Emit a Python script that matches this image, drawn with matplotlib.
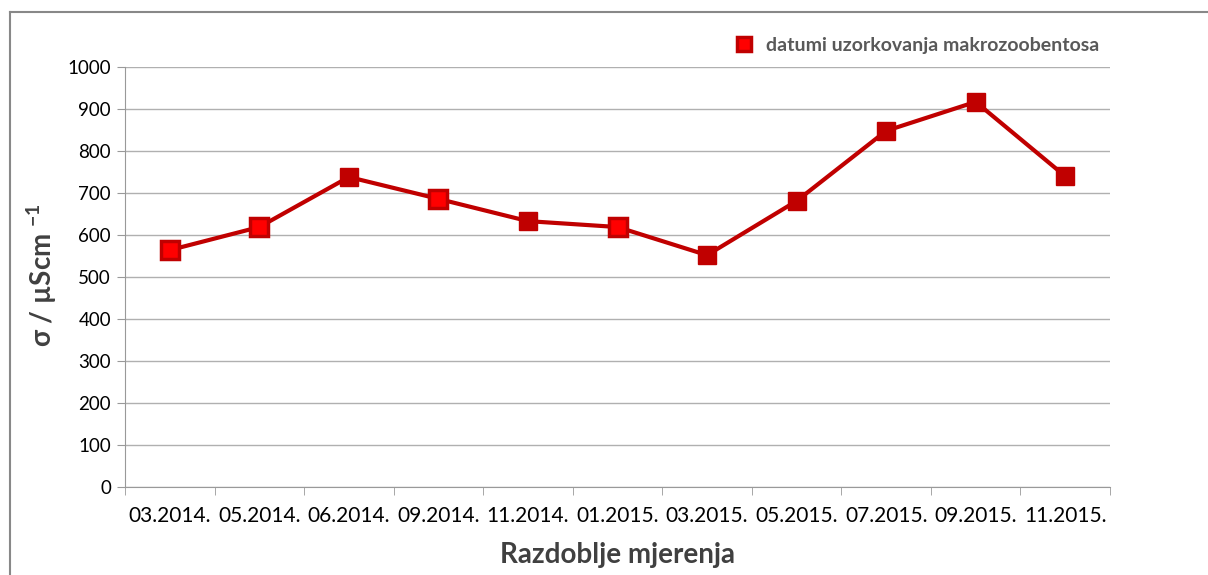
import matplotlib
matplotlib.use('Agg')
import matplotlib.pyplot as plt
import numpy as np
from matplotlib.lines import Line2D

# podaci
datumi = ['03.2014.', '05.2014.', '06.2014.', '09.2014.', '11.2014.', '01.2015.',
          '03.2015.', '05.2015.', '07.2015.', '09.2015.', '11.2015.']
vodljivost = [564, 619, 738, 686, 633, 619, 552, 681, 848, 917, 740]
uzorkovanje = [0, 1, 3, 5]  # indeksi datuma uzorkovanja makrozoobentosa

plt.rcParams['font.family'] = ['Lato', 'DejaVu Sans']

fig = plt.figure(figsize=(12.08, 5.75), dpi=100)
ax = fig.add_axes([125 / 1208, 1 - 487 / 575, 985 / 1208, 420 / 575])

x = np.arange(len(datumi))
ax.plot(x, vodljivost, color='#C00000', linewidth=3, marker='s', markersize=13,
        markerfacecolor='#C00000', markeredgecolor='#C00000', zorder=3)
xs = [x[i] for i in uzorkovanje]
ys = [vodljivost[i] for i in uzorkovanje]
ax.plot(xs, ys, linestyle='none', marker='s', markersize=13, markeredgewidth=2.5,
        markerfacecolor='#FF0000', markeredgecolor='#C00000', zorder=4,
        label='datumi uzorkovanja makrozoobentosa')

ax.set_xlim(-0.5, len(datumi) - 0.5)
ax.set_ylim(0, 1000)
ax.set_yticks(range(0, 1001, 100))
ax.set_xticks(x)
ax.set_xticklabels(datumi, fontsize=15, color='#000000')
ax.set_xticks(np.arange(-0.5, len(datumi), 1), minor=True)
ax.tick_params(axis='x', which='major', length=0, pad=14)
ax.tick_params(axis='x', which='minor', length=6, color='#999999', direction='out')
ax.tick_params(axis='y', length=6, color='#999999', labelsize=13.5, pad=4)

ax.grid(axis='y', color='#b0b0b0', linewidth=1)
ax.set_axisbelow(True)
for s in ['top', 'right']:
    ax.spines[s].set_visible(False)
ax.spines['left'].set_color('#999999')
ax.spines['bottom'].set_color('#999999')

fig.text(42 / 1208, 1 - 275 / 575, 'σ / µScm $^{\\mathregular{-1}}$', rotation=90, ha='center', va='center',
         fontsize=20, fontweight='bold', color='#404040')
fig.text(617 / 1208, 1 - 555 / 575, 'Razdoblje mjerenja', ha='center', va='center',
         fontsize=20, fontweight='bold', color='#404040')

leg = fig.legend(loc='center left', bbox_to_anchor=(715 / 1208, 1 - 45 / 575), frameon=False,
                 prop={'size': 14, 'weight': 'bold'}, handlelength=1.2, handletextpad=0.5,
                 markerscale=0.8)
for t in leg.get_texts():
    t.set_color('#595959')

# okvir grafikona
fig.add_artist(Line2D([10 / 1208, 10 / 1208], [0, 1 - 12 / 575], transform=fig.transFigure,
                      color='#888888', linewidth=1.5))
fig.add_artist(Line2D([10 / 1208, 1], [1 - 12 / 575, 1 - 12 / 575], transform=fig.transFigure,
                      color='#888888', linewidth=1.5))

fig.savefig('out.png', dpi=100)
